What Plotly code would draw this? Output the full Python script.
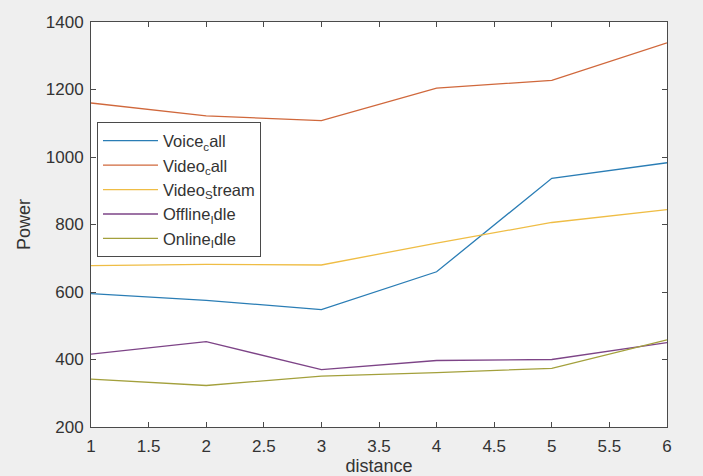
import plotly.graph_objects as go

# Measured power for each service at each distance
distance = [1, 2, 3, 4, 5, 6]
voice_call = [595, 575, 548, 660, 937, 983]
video_call = [1160, 1122, 1108, 1204, 1227, 1338]
video_stream = [678, 682, 680, 745, 806, 844]
offline_idle = [416, 453, 370, 397, 400, 450]
online_idle = [342, 323, 351, 361, 374, 458]

series_names = [
    "Voice<sub>c</sub>all",
    "Video<sub>c</sub>all",
    "Video<sub>S</sub>tream",
    "Offline<sub>I</sub>dle",
    "Online<sub>I</sub>dle",
]
series_values = [voice_call, video_call, video_stream, offline_idle, online_idle]
series_colors = ["#2a7db5", "#d0683c", "#efbd45", "#7d4487", "#a3a03c"]

y_ticks = [200, 400, 600, 800, 1000, 1200, 1400]
x_ticks = [1, 1.5, 2, 2.5, 3, 3.5, 4, 4.5, 5, 5.5, 6]

FONT = "Liberation Sans, Arial, Helvetica, sans-serif"
AXIS_COLOR = "#4a4a4a"
TEXT_COLOR = "#333333"

fig = go.Figure()
for name, vals, col in zip(series_names, series_values, series_colors):
    fig.add_trace(go.Scatter(
        x=distance, y=vals, name=name, mode="lines",
        line=dict(color=col, width=1.3),
    ))

axis_common = dict(
    showgrid=False, zeroline=False, automargin=False,
    showline=True, linecolor=AXIS_COLOR, linewidth=1,
    mirror="ticks", ticks="inside", ticklen=5, tickcolor=AXIS_COLOR,
    tickfont=dict(family=FONT, size=17, color=TEXT_COLOR),
)

fig.update_xaxes(
    range=[1, 6], tickvals=x_ticks, ticktext=[f"{v:g}" for v in x_ticks],
    ticklabelstandoff=4,
    title=dict(text="distance", font=dict(family=FONT, size=18, color=TEXT_COLOR),
               standoff=4),
    **axis_common,
)
fig.update_yaxes(
    range=[200, 1400], tickvals=y_ticks,
    ticklabelstandoff=3,
    title=dict(text="Power", font=dict(family=FONT, size=18, color=TEXT_COLOR),
               standoff=10),
    **axis_common,
)

fig.update_layout(
    width=703, height=476,
    margin=dict(l=91, r=36, t=22, b=49),
    paper_bgcolor="#efefef",
    plot_bgcolor="#ffffff",
    font=dict(family=FONT, color=TEXT_COLOR),
    legend=dict(
        x=0.0104, y=0.752, xanchor="left", yanchor="top",
        bgcolor="#ffffff", bordercolor=AXIS_COLOR, borderwidth=1,
        font=dict(family=FONT, size=16.5, color=TEXT_COLOR),
        itemwidth=55, tracegroupgap=0,
    ),
    showlegend=True,
)

fig.write_html("out.html")
